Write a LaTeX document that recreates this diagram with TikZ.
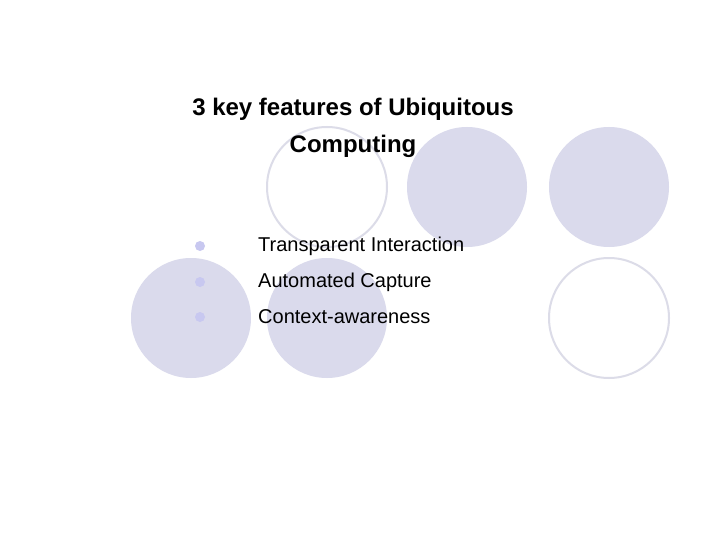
\documentclass[tikz,border=0pt]{standalone}
\usepackage{fontspec}
\setmainfont{Liberation Sans}
\definecolor{lav}{RGB}{218,218,236}
\definecolor{lavline}{RGB}{220,220,232}
\definecolor{dotc}{RGB}{200,200,240}
\begin{document}
\begin{tikzpicture}[x=1pt,y=-1pt,
  full/.style={fill=lav},
  ring/.style={draw=lavline,line width=2pt},
  item/.style={anchor=west,font=\fontsize{20}{24}\selectfont,inner sep=0pt},
  dot/.style={circle,fill=dotc,minimum size=10pt,inner sep=0pt}]
\useasboundingbox (0,0) rectangle (720,540);
\fill[white] (0,0) rectangle (720,540);
\draw[ring] (327,187) circle (60);
\fill[full] (467,187) circle (60);
\fill[full] (609,187) circle (60);
\fill[full] (191,318) circle (60);
\fill[full] (327,318) circle (60);
\draw[ring] (609,318) circle (60);
\node[align=center,font=\bfseries\fontsize{24}{37}\selectfont] (title) at (353,128) {3 key features of Ubiquitous\\Computing};
\node[dot] (b1) at (200,246) {};
\node[dot] (b2) at (200,282) {};
\node[dot] (b3) at (200,317) {};
\node[item] (t1) at (258,246) {Transparent Interaction};
\node[item] (t2) at (258,282) {Automated Capture};
\node[item] (t3) at (258,317) {Context-awareness};
\end{tikzpicture}
\end{document}
